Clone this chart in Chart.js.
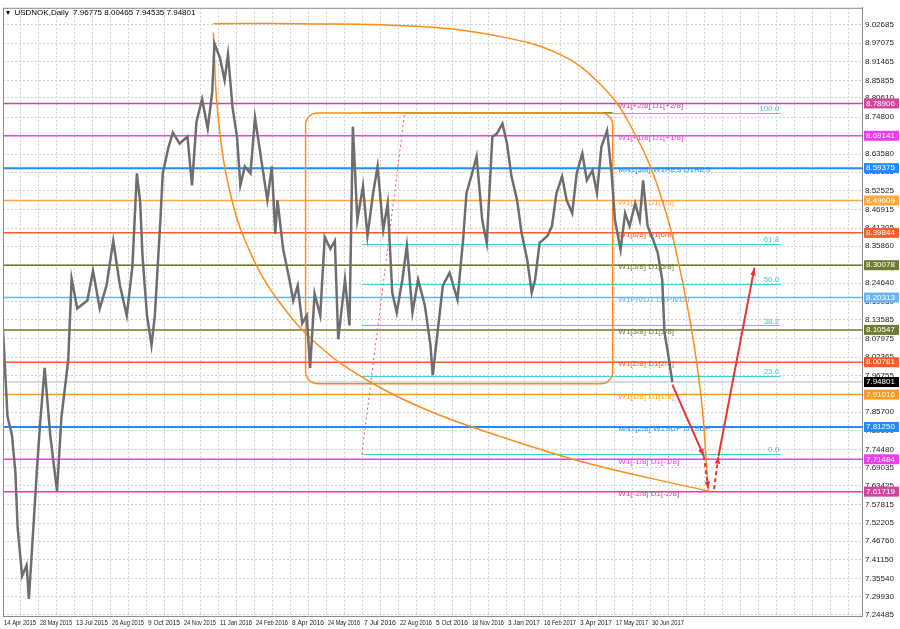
<!DOCTYPE html>
<html><head><meta charset="utf-8">
<script src="https://cdn.jsdelivr.net/npm/chart.js@4/dist/chart.umd.min.js"></script>
<style>html,body{margin:0;padding:0;background:#fff}#w{width:900px;height:629px}</style>
</head><body><div id="w"><canvas id="c"></canvas></div>
<script>
// Price path (bar index, close)
const priceBars = [0,4,8,11,13,17,21,23,27,30,33,37,42,48,52,58,61,66,75,80,86,92,98,104,110,115,119,122,124,128,132,135,140,142,147,151,157,164,168,172,177,182,186,188,193,197,200,204,208,211,215,220,224,228,231,235,239,242,244,249,255,258,262,266,270,273,277,282,286,291,295,298,304,308,311,315,320,324,329,333,338,342,346,350,355,359,364,369,375,380,382,387,391,397,404,409,412,417,421,426,430,435,439,444,448,452,457,461,466,470,473,477,484,488,492,497,501,506,510,515,519,524,528,532,537,541,544,549,553,557,562,566,569,573,578,582,586,588,591,595];
const priceClose = [8.105,7.844,7.787,7.676,7.509,7.362,7.395,7.293,7.509,7.676,7.823,7.991,7.787,7.619,7.844,8.015,8.260,8.170,8.194,8.284,8.170,8.239,8.374,8.239,8.149,8.296,8.578,8.488,8.329,8.149,8.059,8.149,8.443,8.578,8.656,8.701,8.668,8.689,8.542,8.734,8.802,8.713,8.824,8.970,8.925,8.859,8.937,8.778,8.689,8.542,8.599,8.578,8.746,8.656,8.587,8.497,8.599,8.395,8.497,8.350,8.251,8.194,8.239,8.125,8.149,7.991,8.215,8.149,8.386,8.350,8.374,8.077,8.257,8.119,8.719,8.437,8.539,8.389,8.518,8.599,8.407,8.488,8.218,8.158,8.257,8.359,8.158,8.257,8.179,8.059,7.969,8.119,8.239,8.278,8.197,8.377,8.518,8.578,8.629,8.437,8.368,8.689,8.698,8.728,8.668,8.569,8.497,8.398,8.317,8.218,8.257,8.368,8.389,8.419,8.518,8.569,8.497,8.458,8.578,8.638,8.557,8.587,8.518,8.659,8.707,8.578,8.437,8.347,8.458,8.419,8.488,8.437,8.557,8.419,8.377,8.338,8.257,8.098,8.038,7.948];
// X tick labels (every 32 bars)
const dateLabels = ["14 Apr 2015","28 May 2015","13 Jul 2015","26 Aug 2015","9 Oct 2015","24 Nov 2015","11 Jan 2016","24 Feb 2016","8 Apr 2016","24 May 2016","7 Jul 2016","22 Aug 2016","5 Oct 2016","18 Nov 2016","3 Jan 2017","16 Feb 2017","3 Apr 2017","17 May 2017","30 Jun 2017"];
// Y tick labels
const priceTicks = [9.02685,8.97075,8.91465,8.85855,8.80610,8.74800,8.69190,8.63580,8.58135,8.52525,8.46915,8.41305,8.35860,8.30250,8.24640,8.19030,8.13585,8.07975,8.02365,7.96755,7.91145,7.85700,7.80090,7.74480,7.69035,7.63425,7.57815,7.52205,7.46760,7.41150,7.35540,7.29930,7.24485];
// Murrey levels
const levelPrices = [8.78906,8.69141,8.59375,8.49609,8.39844,8.30078,8.20313,8.10547,8.00781,7.91016,7.81250,7.71484,7.61719];
const levelNames = ["W1[+2/8] D1[+2/8]","W1[+1/8] D1[+1/8]","MN1[3/8] W1RES D1RES","W1[7/8] D1[7/8]","W1[6/8] D1[6/8]","W1[5/8] D1[5/8]","W1PIVOT D1PIVOT","W1[3/8] D1[3/8]","W1[2/8] D1[2/8]","W1[1/8] D1[1/8]","MN1[2/8] W1SUP D1SUP","W1[-1/8] D1[-1/8]","W1[-2/8] D1[-2/8]"];
const levelColors = ["#d4449e","#f03cf0","#1e8cff","#ffa640","#ff5a2a","#6f7a30","#6ab4f4","#6f7a30","#ff5a2a","#ff9a1a","#1e8cff","#f03cf0","#d4449e"];
const lastPrice = 7.94801;
// Fibonacci
const fibPrices = [8.760,8.365,8.245,8.119,7.967,7.730];
const fibNames = ["100.0","61.8","50.0","38.2","23.6","0.0"];
// Arc curves
const arcTopBars = [187,264,371,442,495,531,557,584,606,620,627];
const arcTopPrices = [9.030,9.030,9.021,8.991,8.937,8.847,8.727,8.518,8.218,7.919,7.619];
const arcLeftBars = [187,191,202,220,246,282,326,380,442,513,575,627];
const arcLeftPrices = [9.003,8.757,8.518,8.338,8.188,8.054,7.949,7.859,7.784,7.709,7.658,7.619];
// Range box
const boxBars = [269,542]; const boxPrices = [8.760,7.943];
// Arrows
const arrowBars = [[595,623],[623,627],[632,636],[636,668]];
const arrowPrices = [[7.940,7.724],[7.724,7.625],[7.625,7.724],[7.724,8.293]];
const arrowDashed = [false,true,true,false];
const fibRay = {bars:[319,357],prices:[7.730,8.760]};

const pts=(b,p)=>b.map((x,i)=>({x,y:p[i]}));
const FONT='"Liberation Sans", Arial, sans-serif';

const overlay={id:'overlay',
 beforeDatasetsDraw(ch){
  const {ctx,chartArea:a,scales:{x,y}}=ch;
  ctx.save();
  ctx.strokeStyle='#dadada';ctx.lineWidth=2;
  ctx.beginPath();ctx.moveTo(a.left,y.getPixelForValue(lastPrice));ctx.lineTo(a.right,y.getPixelForValue(lastPrice));ctx.stroke();
  levelPrices.forEach((p,i)=>{const py=y.getPixelForValue(p);ctx.strokeStyle=levelColors[i];ctx.lineWidth=(i==2||i==10)?2:1.5;ctx.beginPath();ctx.moveTo(a.left,py);ctx.lineTo(a.right,py);ctx.stroke();});
  ctx.strokeStyle='#3fd2e0';ctx.lineWidth=1;
  fibPrices.forEach((p,i)=>{const py=Math.round(y.getPixelForValue(p))+0.5;ctx.beginPath();ctx.moveTo(x.getPixelForValue(i==0?357:319),py);ctx.lineTo(x.getPixelForValue(691),py);ctx.stroke();});
  ctx.strokeStyle='#8a8a30';ctx.beginPath();const t=Math.round(y.getPixelForValue(fibPrices[0]))-0.5;ctx.moveTo(x.getPixelForValue(319),t);ctx.lineTo(x.getPixelForValue(542),t);ctx.stroke();
  ctx.strokeStyle='#f05050';ctx.setLineDash([2,3]);ctx.beginPath();
  ctx.moveTo(x.getPixelForValue(fibRay.bars[0]),y.getPixelForValue(fibRay.prices[0]));ctx.lineTo(x.getPixelForValue(fibRay.bars[1]),y.getPixelForValue(fibRay.prices[1]));ctx.stroke();ctx.setLineDash([]);
  const bx0=x.getPixelForValue(boxBars[0]),bx1=x.getPixelForValue(boxBars[1]),by0=y.getPixelForValue(boxPrices[0]),by1=y.getPixelForValue(boxPrices[1]);
  ctx.strokeStyle='#ff8c1a';ctx.lineWidth=1.5;ctx.beginPath();ctx.roundRect(bx0,by0,bx1-bx0,by1-by0,12);ctx.stroke();
  ctx.font='8px '+FONT;ctx.textBaseline='middle';
  levelPrices.forEach((p,i)=>{ctx.fillStyle=levelColors[i];ctx.fillText(levelNames[i],x.getPixelForValue(547),y.getPixelForValue(p)+2);});
  ctx.fillStyle='#3fc6d6';ctx.textAlign='right';
  fibPrices.forEach((p,i)=>{ctx.fillText(fibNames[i],x.getPixelForValue(690),y.getPixelForValue(p)-4);});
  ctx.restore();
 },
 afterDatasetsDraw(ch){
  const {ctx,chartArea:a,scales:{x,y}}=ch;
  ctx.save();
  ctx.strokeStyle='#e23a3a';ctx.fillStyle='#e23a3a';ctx.lineWidth=2;
  arrowBars.forEach((b,i)=>{const x1=x.getPixelForValue(b[0]),y1=y.getPixelForValue(arrowPrices[i][0]),x2=x.getPixelForValue(b[1]),y2=y.getPixelForValue(arrowPrices[i][1]);
   ctx.setLineDash(arrowDashed[i]?[4,3]:[]);ctx.beginPath();ctx.moveTo(x1,y1);ctx.lineTo(x2,y2);ctx.stroke();ctx.setLineDash([]);
   const an=Math.atan2(y2-y1,x2-x1);ctx.beginPath();ctx.moveTo(x2,y2);ctx.lineTo(x2-8*Math.cos(an-0.35),y2-8*Math.sin(an-0.35));ctx.lineTo(x2-8*Math.cos(an+0.35),y2-8*Math.sin(an+0.35));ctx.closePath();ctx.fill();});
  ctx.strokeStyle='#8c8c8c';ctx.lineWidth=1;ctx.strokeRect(a.left+0.5,a.top+0.5,a.right-a.left,a.bottom-a.top);
  ctx.font='8px '+FONT;ctx.fillStyle='#000';ctx.textBaseline='middle';ctx.textAlign='left';
  ctx.fillText('▾  USDNOK,Daily  7.96775 8.00465 7.94535 7.94801',a.left+3,a.top+5);
  ctx.fillStyle='#222';ctx.font='7.5px '+FONT;ctx.textAlign='left';
  dateLabels.forEach((l,i)=>{const px=x.getPixelForValue(i*32);ctx.fillText(l,px+1,a.bottom+7,32);});
  const badge=(p,c,txt)=>{const py=y.getPixelForValue(p);ctx.fillStyle=c;ctx.fillRect(a.right+2,py-5,35,10);ctx.fillStyle='#fff';ctx.textAlign='left';ctx.fillText(txt,a.right+4,py);};
  ctx.font='8px '+FONT;
  levelPrices.forEach((p,i)=>badge(p,levelColors[i],p.toFixed(5)));
  badge(lastPrice,'#000',lastPrice.toFixed(5));
  ctx.restore();
 }};

new Chart(document.getElementById('c'),{
 type:'line',
 data:{datasets:[
  {data:pts(priceBars,priceClose),borderColor:'#6e6e6e',borderWidth:2.5,pointRadius:0,tension:0},
  {data:pts(arcTopBars,arcTopPrices),borderColor:'#ff8c1a',borderWidth:1.5,pointRadius:0,tension:0.4},
  {data:pts(arcLeftBars,arcLeftPrices),borderColor:'#ff8c1a',borderWidth:1.5,pointRadius:0,tension:0.4}
 ]},
 options:{responsive:true,maintainAspectRatio:false,animation:false,
  layout:{padding:{left:3,top:3,right:0,bottom:0}},
  plugins:{legend:{display:false},tooltip:{enabled:false}},
  scales:{
   x:{type:'linear',min:0,max:763.6,
    afterBuildTicks:s=>{const t=[];for(let v=0;v<=763;v+=16)t.push({value:v});s.ticks=t;},
    afterFit:s=>{s.height=13;},
    grid:{color:'#cfcfcf',drawTicks:false},
    border:{display:true,color:'#8c8c8c',dash:[2,2]},
    ticks:{display:false}},
   y:{position:'right',min:7.2418,max:9.0778,
    afterBuildTicks:s=>{s.ticks=priceTicks.map(v=>({value:v}));},
    afterFit:s=>{s.width=38;},
    grid:{color:'#cfcfcf',drawTicks:false},
    border:{display:true,color:'#8c8c8c',dash:[2,2]},
    ticks:{color:'#222',font:{size:8,family:FONT},padding:3,callback:v=>v.toFixed(5),autoSkip:false}}
  }},
 plugins:[overlay]
});
</script></body></html>
